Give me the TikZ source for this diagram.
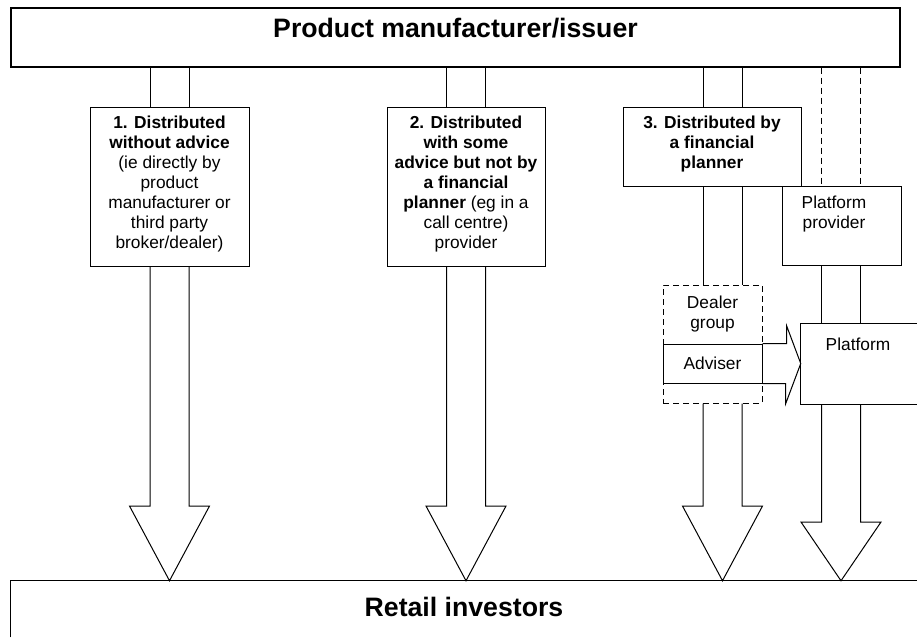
\documentclass[tikz,border=0pt]{standalone}
\usepackage{fontspec}
\setmainfont{Liberation Sans}
\usetikzlibrary{calc,fit,positioning}
\def\shafts[#1](#2)(#3)(#4){\draw[#1] ($(#2 |- #3.south)+(-19.5,0)$) -- ($(#2 |- #4.north)+(-19.5,0)$); \draw[#1] ($(#2 |- #3.south)+(19.5,0)$) -- ($(#2 |- #4.north)+(19.5,0)$);}
\def\blockdown(#1)(#2)(#3){\draw[flow] ($(#1 |- #2.south)+(-19.5,0)$) -- ($(#1)+(-19.5,#3)$) -- ($(#1)+(-40,#3)$) -- (#1 |- retail.north) -- ($(#1)+(40,#3)$) -- ($(#1)+(19.5,#3)$) -- ($(#1 |- #2.south)+(19.5,0)$);}
\tikzset{
	frame/.style={draw, line width=1pt, inner sep=0pt},
	box/.style={draw, line width=0.75pt, inner sep=0pt},
	open/.style={inner sep=0pt},
	dashbox/.style={box, dash pattern=on 4.5pt off 3pt},
	flow/.style={line width=0.75pt, line join=miter},
	dashflow/.style={flow, dash pattern=on 4.5pt off 3pt},
	note/.style={inner sep=0pt, align=center, font=\fontsize{13}{15}\selectfont},
	big/.style={inner sep=0pt, font=\fontsize{20}{24}\selectfont\bfseries}
}
\begin{document}
\begin{tikzpicture}[x=0.75pt, y=-0.75pt]
		%%%%% START %%%%%
		\path[use as bounding box] (0,0) rectangle (917,637);
		
		\coordinate (col1) at (169.5,0);
		\coordinate (col2) at (466,0);
		\coordinate (col3) at (722.5,0);
		\coordinate (col4) at (841,0);
		
		% top and bottom
		\node[frame, big, fit={(11,8) (900,67)}] (maker) {Product manufacturer/issuer};
		\node[open, fit={(11,581) (917,637)}] (retail) {};
		\draw[line width=1pt] (retail.south west) -- (retail.north west) -- (retail.north east);
		\node[big, anchor=north] (retailtext) at (464,597) {Retail investors};
		
		% channel boxes
		\node[box, fit={(90,107) (249,266)}] (b1) {};
		\node[box, fit={(387,107) (545,266)}] (b2) {};
		\node[box, fit={(623,107) (801,186)}] (b3) {};
		\node[note, below=7pt of b1.north] (t1) {\textbf{1. Distributed}\\\textbf{without advice}\\(ie directly by\\product\\manufacturer or\\third party\\broker/dealer)};
		\node[note, below=7pt of b2.north] (t2) {\textbf{2. Distributed}\\\textbf{with some}\\\textbf{advice but not by}\\\textbf{a financial}\\\textbf{planner} (eg in a\\call centre)\\provider};
		\node[note, below=7pt of b3.north] (t3) {\textbf{3. Distributed by}\\\textbf{a financial}\\\textbf{planner}};
		
		% platform side
		\node[box, fit={(782,186) (901,265)}] (pp) {};
		\node[note, anchor=north] (pptext) at (834,196) {Platform\\provider};
		\node[open, fit={(801,324) (917,404)}] (plat) {};
		\draw[flow] (plat.north east) -- (plat.north west) -- (plat.south west) -- (plat.south east);
		\node[note, anchor=north] (plattext) at (858,338) {Platform};
		
		\node[dashbox, fit={(663,285) (762,403)}] (dg) {};
		\node[note, below=8pt of dg.north] (dgtext) {Dealer\\group};
		\node[box, note, fit={(663,344) (762,383)}] (adv) {};
		\node[note] (advtext) at (adv.center) {Adviser};
		\draw[flow] (adv.north east) -- ++(24,0) -- ++(0,-18) -- (plat.west |- 0,363.5) -- ++(-15,40) -- ++(0,-20) -- (adv.south east);
		
		% flows
		\shafts[flow](col1)(maker)(b1);
		\shafts[flow](col2)(maker)(b2);
		\shafts[flow](col3)(maker)(b3);
		\shafts[flow](col3)(b3)(dg);
		\shafts[dashflow](col4)(maker)(pp);
		\shafts[flow](col4)(pp)(plat);
		
		\blockdown(col1)(b1)(506);
		\blockdown(col2)(b2)(506);
		\blockdown(col3)(dg)(506);
		\blockdown(col4)(plat)(522);
		%%%%% END %%%%%
	\end{tikzpicture}
\end{document}
